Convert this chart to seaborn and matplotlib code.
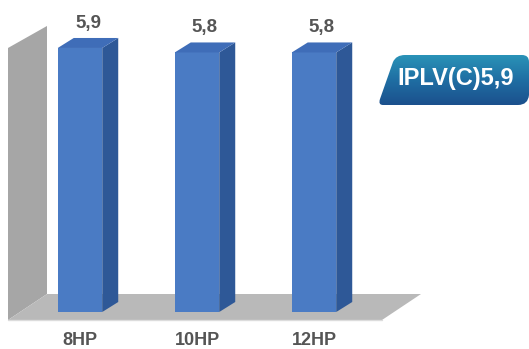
import numpy as np
import matplotlib
matplotlib.use("Agg")
import matplotlib.pyplot as plt
import seaborn as sns
from matplotlib.patches import Polygon, PathPatch
from matplotlib.path import Path
from matplotlib.colors import LinearSegmentedColormap

# ---- data ----
categories = ["8HP", "10HP", "12HP"]
values = [5.9, 5.8, 5.8]
value_labels = ["5,9", "5,8", "5,8"]
badge_text = "IPLV(C)5,9"

sns.set_theme(style="white")
plt.rcParams['font.family'] = ['Liberation Sans', 'DejaVu Sans']

W, H = 529, 349
fig = plt.figure(figsize=(W / 100, H / 100), dpi=100)

PXY = 44.75   # pixels per value unit
PXX = 117.0   # pixels per category step
x0px = 80     # pixel x of first category
base_px = 312 # pixel y of bar base
bottom_px = 322

ax = fig.add_axes([0, (H - bottom_px) / H, 1, bottom_px / H])

front = "#4a7bc4"
side = "#2e5897"
top = "#3f6db8"

sns.barplot(x=categories, y=values, color=front, width=0.38, saturation=1,
            linewidth=0, edgecolor="none", ax=ax, zorder=3)
ax.set_xlim(-x0px / PXX, (W - x0px) / PXX)
ax.set_ylim(-(bottom_px - base_px) / PXY, base_px / PXY)

# depth of bars
dx, dy = 16 / PXX, 10 / PXY
# wall and floor geometry (background decoration)
fdx, fdy = 39 / PXX, 26 / PXY
wall_x = -72 / PXX
floor_front_y = -8 / PXY
floor_right = 302 / PXX
wall_top = 5.9

wall = Polygon([(wall_x, floor_front_y), (wall_x, wall_top),
                (wall_x + fdx, wall_top + 22 / PXY), (wall_x + fdx, floor_front_y + fdy)],
               closed=True, facecolor="#a6a6a6", edgecolor="none", zorder=1)
floor = Polygon([(wall_x, floor_front_y), (floor_right, floor_front_y),
                 (floor_right + fdx, floor_front_y + fdy), (wall_x + fdx, floor_front_y + fdy)],
                closed=True, facecolor="#b9b9b9", edgecolor="none", zorder=1)
ax.add_patch(wall)
ax.add_patch(floor)
ax.plot([wall_x, floor_right], [floor_front_y, floor_front_y], color="#dcdcdc", lw=1, zorder=1.5)

for p, lab in zip(ax.patches[:3], value_labels):
    x, w, h = p.get_x(), p.get_width(), p.get_height()
    ax.add_patch(Polygon([(x + w, 0), (x + w + dx, dy), (x + w + dx, h + dy), (x + w, h)],
                         closed=True, facecolor=side, edgecolor="none", zorder=3))
    ax.add_patch(Polygon([(x, h), (x + dx, h + dy), (x + w + dx, h + dy), (x + w, h)],
                         closed=True, facecolor=top, edgecolor="none", zorder=3))
    ax.text(x + w / 2 + dx / 2, h + dy + 6 / PXY, lab, ha="center", va="bottom",
            fontsize=13.5, fontweight="bold", color="#555555")

ax.set_xticks(range(len(categories)))
ax.set_xticklabels(categories, fontsize=13, fontweight="bold", color="#555555")
ax.tick_params(axis="x", length=0, pad=7.5)
ax.set_yticks([])
ax.set_xlabel("")
ax.set_ylabel("")
for s in ax.spines.values():
    s.set_visible(False)
ax.patch.set_alpha(0)

# ---- badge ----
ov = fig.add_axes([0, 0, 1, 1], zorder=5)
ov.axis("off")
ov.patch.set_alpha(0)

verts = [(405, 55), (522, 55), (529, 55), (529, 62), (529, 95), (528, 105), (518, 105),
         (383, 105), (378, 105), (380, 99), (393, 62), (396, 55), (405, 55)]
codes = [Path.MOVETO, Path.LINETO, Path.CURVE3, Path.CURVE3, Path.LINETO, Path.CURVE3, Path.CURVE3,
         Path.LINETO, Path.CURVE3, Path.CURVE3, Path.LINETO, Path.CURVE3, Path.CURVE3]
badge = PathPatch(Path(verts, codes), facecolor="none", edgecolor="none")
ov.add_patch(badge)
cmap = LinearSegmentedColormap.from_list("b", ["#2a94b8", "#1f6ea3", "#1b4f8c"])
grad = np.linspace(0, 1, 100).reshape(-1, 1)
im = ov.imshow(grad, extent=(376, 529, 106, 54), cmap=cmap, aspect="auto", zorder=5)
im.set_clip_path(badge)
ov.text(456, 79, badge_text, ha="center", va="center", color="white",
        fontsize=17, fontweight="bold", zorder=6)
ov.set_xlim(0, W)
ov.set_ylim(H, 0)

fig.savefig("out.png", dpi=100)
